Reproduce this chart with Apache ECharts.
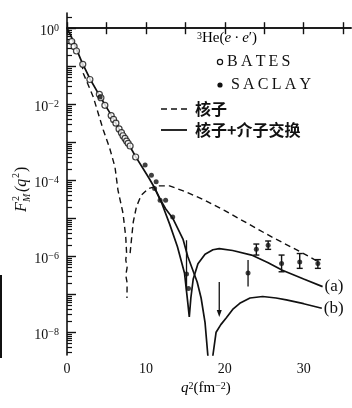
<!DOCTYPE html>
<html>
<head>
<meta charset="utf-8">
<title>3He 磁形状因子</title>
<script src="https://cdn.jsdelivr.net/npm/echarts@6/dist/echarts.min.js"></script>
<style>
html, body { margin: 0; padding: 0; background: #fff; }
#chart { width: 352px; height: 408px; }
</style>
</head>
<body>
<div id="chart"></div>
<script>
// 数据: [q^2 (fm^-2), log10 F_M^2]
var batesPts = [
	[0.6, -0.35], [0.9, -0.48], [1.2, -0.6], [2.0, -0.95], [2.9, -1.35],
	[4.1, -1.74], [4.3, -1.83], [4.8, -2.03], [5.6, -2.3], [5.9, -2.4],
	[6.2, -2.5], [6.6, -2.65], [6.9, -2.75], [7.1, -2.83], [7.35, -2.9],
	[7.55, -2.97], [7.75, -3.03], [8.0, -3.1], [8.7, -3.39]
];
var saclayPts = [
	[4.2, -1.81], [9.9, -3.6], [10.7, -3.87], [11.3, -4.04], [11.1, -4.22],
	[11.8, -4.53], [12.5, -4.53], [13.4, -4.97], [15.15, -6.47], [15.4, -6.85],
	[22.95, -6.44], [24.0, -5.82], [25.5, -5.71], [27.2, -6.19], [29.5, -6.15], [31.8, -6.19]
];
// 误差棒 [q^2, 下限, 上限]
var saclayBars = [
	[24.0, -5.97, -5.68], [25.5, -5.82, -5.6], [27.2, -6.41, -5.97],
	[29.5, -6.32, -5.93], [31.8, -6.32, -6.09]
];
var saclayLines = [[15.15, -6.9, -5.58], [22.95, -6.8, -6.1]];
// 上限箭头 [q^2, 终点, 起点]
var saclayLimits = [[19.3, -7.6, -6.68]];

// 核子 (虚线)
var nucleonLeft = [
	[1.9, -0.92], [2.07, -1.19], [3.33, -1.81], [4.6, -2.68], [5.4, -3.15],
	[6.08, -3.65], [6.46, -4.26], [7.1, -4.87], [7.45, -5.5], [7.55, -5.9],
	[7.45, -6.1], [7.62, -6.3], [7.45, -6.5], [7.62, -6.7], [7.6, -7.1]
];
var nucleonRight = [
	[8.0, -5.92], [8.2, -5.5], [8.4, -5.1], [8.8, -4.7], [9.4, -4.4],
	[10.3, -4.22], [11.5, -4.15], [13.0, -4.15], [15.0, -4.3], [17.5, -4.53],
	[20.0, -4.8], [23.0, -5.15], [26.0, -5.5], [29.0, -5.82], [32.0, -6.16]
];
// 核子+介子交换 (a), (b)
var curveA = [
	[0, 0], [0.5, -0.2], [1.0, -0.45], [1.9, -0.9], [2.9, -1.33], [4.2, -1.8],
	[5.7, -2.32], [7.0, -2.8], [8.0, -3.12], [8.7, -3.38], [9.6, -3.68],
	[10.4, -3.95], [11.1, -4.2], [12.0, -4.6], [13.0, -5.15], [14.0, -5.75],
	[14.9, -6.45], [15.3, -7.2], [15.5, -7.6], [15.7, -7.1], [16.0, -6.6],
	[16.6, -6.2], [17.5, -5.95], [18.5, -5.83], [19.3, -5.8], [21.0, -5.85],
	[23.4, -5.97], [25.5, -6.17], [27.3, -6.37], [30.0, -6.6], [32.4, -6.8]
];
var curveB = [
	[11.1, -4.2], [11.8, -4.5], [12.5, -4.75], [13.4, -5.0], [14.7, -5.55],
	[15.3, -6.0], [16.5, -6.68], [17.0, -7.1], [17.5, -7.75], [17.85, -8.6],
	[18.15, -9.6], [18.5, -8.6], [18.9, -8.0], [19.5, -7.8], [20.2, -7.62],
	[21.0, -7.4], [21.9, -7.24], [23.2, -7.1], [24.8, -7.06], [26.5, -7.1],
	[27.8, -7.15], [30.0, -7.25], [32.3, -7.37]
];

// 刻度
var xTicks = [0, 5, 10, 15, 20, 25, 30, 35];
var xLabels = [0, 10, 20, 30];
var yDecades = [-8, -7, -6, -5, -4, -3, -2, -1, 0];
var yLabels = [-8, -6, -4, -2, 0];

var yMinor = [];
for (var d = -9; d <= 0; d++) {
	for (var k = 2; k <= 9; k++) {
		var v = d + Math.log10(k);
		if (v > -8.6 && v < 0.4) yMinor.push(v);
	}
}

var SERIF = '"Liberation Serif", "DejaVu Serif", serif';
var CJK = '"Noto Sans CJK SC", sans-serif';
var INK = '#111';

var supRich = {
	b: { fontFamily: SERIF, fontSize: 14, color: INK, verticalAlign: 'bottom', lineHeight: 15 },
	i: { fontFamily: SERIF, fontSize: 15, fontStyle: 'italic', color: INK, verticalAlign: 'bottom', lineHeight: 15 },
	t: { fontFamily: SERIF, fontSize: 15, color: INK, verticalAlign: 'bottom', lineHeight: 15 },
	s: { fontFamily: SERIF, fontSize: 10, color: INK, verticalAlign: 'top', lineHeight: 10, padding: [0, 0, 8, 0] }
};

function powLabel(val) {
	var e = Math.round(val);
	return '{b|10}{s|' + (e < 0 ? '\u2212' + (-e) : e) + '}';
}

// 误差棒
function renderBar(params, api) {
	var x = api.value(0);
	var lo = api.coord([x, api.value(1)]);
	var hi = api.coord([x, api.value(2)]);
	var c = 3;
	var st = { stroke: INK, lineWidth: 1.4 };
	return {
		type: 'group',
		children: [
			{ type: 'line', shape: { x1: lo[0], y1: lo[1], x2: hi[0], y2: hi[1] }, style: st },
			{ type: 'line', shape: { x1: lo[0] - c, y1: lo[1], x2: lo[0] + c, y2: lo[1] }, style: st },
			{ type: 'line', shape: { x1: hi[0] - c, y1: hi[1], x2: hi[0] + c, y2: hi[1] }, style: st }
		]
	};
}
function renderLine(params, api) {
	var x = api.value(0);
	var lo = api.coord([x, api.value(1)]);
	var hi = api.coord([x, api.value(2)]);
	return { type: 'line', shape: { x1: lo[0], y1: lo[1], x2: hi[0], y2: hi[1] }, style: { stroke: INK, lineWidth: 1.3 } };
}
function renderArrow(params, api) {
	var x = api.value(0);
	var end = api.coord([x, api.value(1)]);
	var start = api.coord([x, api.value(2)]);
	return {
		type: 'group',
		children: [
			{ type: 'line', shape: { x1: start[0], y1: start[1], x2: end[0], y2: end[1] - 4 }, style: { stroke: INK, lineWidth: 1.3 } },
			{ type: 'polygon', shape: { points: [[end[0] - 2.5, end[1] - 7], [end[0] + 2.5, end[1] - 7], [end[0], end[1]]] }, style: { fill: INK } }
		]
	};
}

var chart = echarts.init(document.getElementById('chart'));

var axisLineStyle = { color: INK, width: 1.6 };

var option = {
	animation: false,
	backgroundColor: '#fff',
	grid: { left: 67, right: 1, top: 13, bottom: 53 },
	xAxis: [{
		type: 'value', min: 0, max: 36, position: 'bottom',
		axisLine: { show: true, lineStyle: axisLineStyle },
		axisTick: { show: true, inside: true, length: 6, customValues: xTicks, lineStyle: { color: INK, width: 1.4 } },
		axisLabel: { customValues: xLabels, fontFamily: SERIF, fontSize: 14, color: INK, margin: 7 },
		splitLine: { show: false }
	}, {
		type: 'value', min: 0, max: 36, position: 'top',
		axisLine: { show: true, lineStyle: axisLineStyle },
		axisTick: { show: true, inside: true, length: 6, customValues: xTicks, lineStyle: { color: INK, width: 1.4 } },
		axisLabel: { show: false },
		splitLine: { show: false }
	}],
	yAxis: [{
		type: 'value', min: -8.6, max: 0.4, position: 'left',
		axisLine: { show: true, lineStyle: axisLineStyle },
		axisTick: { show: true, inside: true, length: 9, customValues: yDecades, lineStyle: { color: INK, width: 1.4 } },
		axisLabel: { customValues: yLabels, formatter: powLabel, rich: supRich, margin: 8, padding: [6, 0, 0, 0] },
		splitLine: { show: false }
	}, {
		type: 'value', min: -8.6, max: 0.4, position: 'left', offset: 0,
		axisLine: { show: false },
		axisTick: { show: true, inside: true, length: 5, customValues: yMinor, lineStyle: { color: INK, width: 1.2 } },
		axisLabel: { show: false },
		splitLine: { show: false }
	}],
	series: [{
		name: '核子', type: 'line', data: nucleonLeft, showSymbol: false,
		lineStyle: { color: INK, width: 1.4, type: [6, 4] }, z: 2
	}, {
		name: '核子', type: 'line', data: nucleonRight, showSymbol: false,
		lineStyle: { color: INK, width: 1.4, type: [6, 4] }, z: 2
	}, {
		name: '(a)', type: 'line', data: curveA, showSymbol: false,
		lineStyle: { color: INK, width: 1.7 }, z: 3,
		endLabel: { show: true, formatter: '(a)', distance: 2, fontFamily: SERIF, fontSize: 17, color: INK }
	}, {
		name: '(b)', type: 'line', data: curveB, showSymbol: false,
		lineStyle: { color: INK, width: 1.7 }, z: 3,
		endLabel: { show: true, formatter: '(b)', distance: 2, fontFamily: SERIF, fontSize: 17, color: INK }
	}, {
		name: 'bars', type: 'custom', data: saclayBars, renderItem: renderBar,
		encode: { x: 0, y: [1, 2] }, z: 4
	}, {
		name: 'lines', type: 'custom', data: saclayLines, renderItem: renderLine,
		encode: { x: 0, y: [1, 2] }, z: 4
	}, {
		name: 'limits', type: 'custom', data: saclayLimits, renderItem: renderArrow,
		encode: { x: 0, y: [1, 2] }, z: 4
	}, {
		name: 'BATES', type: 'scatter', data: batesPts, symbol: 'circle', symbolSize: 6,
		itemStyle: { color: '#fff', borderColor: INK, borderWidth: 1.2 }, z: 5
	}, {
		name: 'SACLAY', type: 'scatter', data: saclayPts, symbol: 'circle', symbolSize: 5,
		itemStyle: { color: INK }, z: 5
	}],
	graphic: [
		// 图例
		{ type: 'text', left: 197, top: 31, style: {
			text: '{s|3}{t|He(}{i|e}{t|\u2009·\u2009}{i|e}{t|\u2032)}', rich: supRich } },
		{ type: 'circle', shape: { cx: 220, cy: 62, r: 2.6 }, style: { fill: '#fff', stroke: INK, lineWidth: 1.2 } },
		{ type: 'text', x: 227, y: 62, style: { text: 'B\u2009A\u2009T\u2009E\u2009S', font: '16px ' + SERIF, fill: INK, verticalAlign: 'middle' } },
		{ type: 'circle', shape: { cx: 220, cy: 85, r: 2.6 }, style: { fill: INK } },
		{ type: 'text', x: 231, y: 85, style: { text: 'S\u2009A\u2009C\u2009L\u2009A\u2009Y', font: '16px ' + SERIF, fill: INK, verticalAlign: 'middle' } },
		{ type: 'line', shape: { x1: 161, y1: 109, x2: 187, y2: 109 }, style: { stroke: INK, lineWidth: 1.4, lineDash: [6, 4] } },
		{ type: 'text', x: 195, y: 109, style: { text: '核子', font: 'bold 16px ' + CJK, fill: INK, verticalAlign: 'middle' } },
		{ type: 'line', shape: { x1: 161, y1: 130, x2: 187, y2: 130 }, style: { stroke: INK, lineWidth: 1.8 } },
		{ type: 'text', x: 195, y: 130, style: { text: '核子+介子交换', font: 'bold 16px ' + CJK, fill: INK, verticalAlign: 'middle' } },
		// x 轴名
		{ type: 'text', left: 181, top: 381, style: {
			text: '{i|q}{s|2}{t|(fm}{s|\u22122}{t|)}', rich: supRich } },
		// y 轴名
		{ type: 'group', x: 22, y: 188, rotation: Math.PI / 2, children: [
			{ type: 'text', x: -24, y: 0, style: { text: 'F', font: 'italic 16px ' + SERIF, fill: INK, verticalAlign: 'middle' } },
			{ type: 'text', x: -13, y: -6, style: { text: '2', font: '10px ' + SERIF, fill: INK, verticalAlign: 'middle' } },
			{ type: 'text', x: -14, y: 5, style: { text: 'M', font: 'italic 10px ' + SERIF, fill: INK, verticalAlign: 'middle' } },
			{ type: 'text', x: -4, y: 0, style: { text: '(q', font: 'italic 16px ' + SERIF, fill: INK, verticalAlign: 'middle' } },
			{ type: 'text', x: 10, y: -6, style: { text: '2', font: '10px ' + SERIF, fill: INK, verticalAlign: 'middle' } },
			{ type: 'text', x: 16, y: 0, style: { text: ')', font: '16px ' + SERIF, fill: INK, verticalAlign: 'middle' } }
		] },
		// 左侧扫描边线
		{ type: 'rect', shape: { x: 0, y: 275, width: 2, height: 83 }, style: { fill: INK } }
	]
};

chart.setOption(option);
</script>
</body>
</html>
